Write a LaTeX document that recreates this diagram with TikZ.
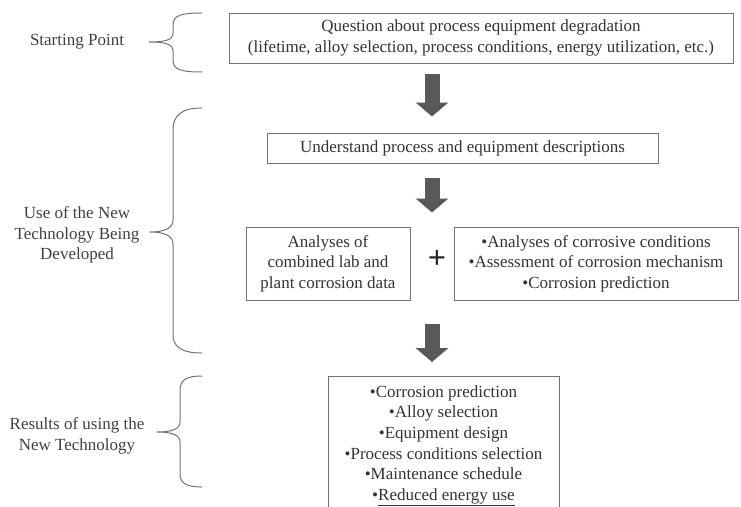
\documentclass[tikz,border=0pt]{standalone}
\usepackage{fontspec}
\setmainfont{Liberation Serif}
\usetikzlibrary{arrows.meta,positioning,calc}

\begin{document}
\begin{tikzpicture}[
  x=1pt, y=-1pt,
  font=\fontsize{17}{20.6}\selectfont, text=black!80,
  box/.style={rectangle,draw=black!55,line width=1pt,align=center,inner sep=0pt},
  side/.style={align=center,text=black!75},
  bigarrow/.style={line width=15pt,draw=black!65,-{Triangle[width=32pt,length=14pt]}},
  brc/.style={draw=black!55,line width=1pt},
]
  \useasboundingbox (0,0) rectangle (741,506);
  % flow boxes
  \node[box,minimum width=504pt,minimum height=50pt] (quest) at (481,38)
    {Question about process equipment degradation\\(lifetime, alloy selection, process conditions, energy utilization, etc.)};
  \node[box,minimum width=391pt,minimum height=30pt] (under) at (462.5,148)
    {Understand process and equipment descriptions};
  \node[box,minimum width=164pt,minimum height=73pt] (data) at (328,263.5)
    {Analyses of\\combined lab and\\plant corrosion data};
  \node[font=\fontsize{32}{32}\selectfont\bfseries,text=black!85] (plus) at (437,259) {+};
  \node[box,minimum width=284pt,minimum height=73pt] (cond) at (596,263.5)
    {\textbullet Analyses of corrosive conditions\\\textbullet Assessment of corrosion mechanism\\\textbullet Corrosion prediction};
  \node[box,anchor=north,minimum width=231pt,inner ysep=9pt] (res) at (443.5,376)
    {\textbullet Corrosion prediction\\\textbullet Alloy selection\\\textbullet Equipment design\\
     \textbullet Process conditions selection\\\textbullet Maintenance schedule\\\textbullet\underline{Reduced energy use}};
  % block arrows
  \coordinate (ax) at (432,0);
  \draw[bigarrow,shorten <=10pt,shorten >=16pt] (ax |- quest.south) -- (ax |- under.north);
  \draw[bigarrow,shorten <=14pt,shorten >=14pt] (ax |- under.south) -- (ax |- data.north);
  \draw[bigarrow,shorten <=23pt,shorten >=14pt] (ax |- data.south) -- (ax |- res.north);
  % side labels
  \node[side] (start) at (77,42) {Starting Point};
  \node[side] (use) at (77,235) {Use of the New\\Technology Being\\Developed};
  \node[side] (result) at (77,436) {Results of using the\\New Technology};
  % braces
  \draw[brc] (202,13) .. controls (182,13) and (173,15) .. (173,25) -- (173,33)
    .. controls (173,40) and (165,42) .. (149,42)
    .. controls (165,42) and (173,44) .. (173,51) -- (173,60)
    .. controls (173,70) and (182,72) .. (202,72);
  \draw[brc] (202,108) .. controls (182,108) and (173,115) .. (173,130) -- (173,220)
    .. controls (173,228) and (165,232) .. (150,232)
    .. controls (165,232) and (173,236) .. (173,244) -- (173,335)
    .. controls (173,347) and (182,353) .. (202,353);
  \draw[brc] (202,376) .. controls (188,376) and (180,379) .. (180,390) -- (180,422)
    .. controls (180,429) and (172,432) .. (157,432)
    .. controls (172,432) and (180,435) .. (180,442) -- (180,474)
    .. controls (180,484) and (188,487) .. (202,487);
\end{tikzpicture}
\end{document}
